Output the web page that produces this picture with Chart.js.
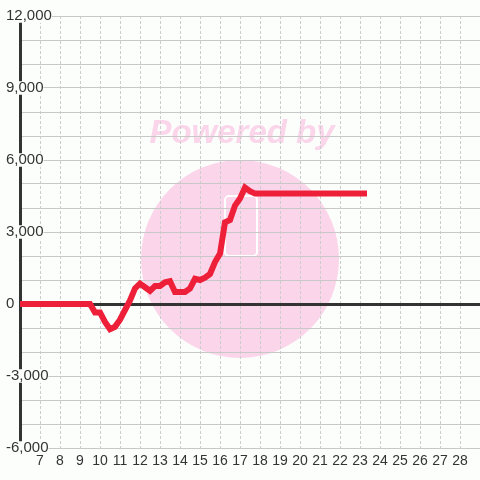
<!DOCTYPE html>
<html>
<head>
<meta charset="utf-8">
<script src="https://cdn.jsdelivr.net/npm/chart.js@4/dist/chart.umd.min.js"></script>
<style>
  html, body { margin: 0; padding: 0; background: #fcfefc; }
  #wrap { width: 480px; height: 480px; }
</style>
</head>
<body>
<div id="wrap"><canvas id="c"></canvas></div>
<script>
// profit curve
const xValues = [6, 9.5, 9.75, 10, 10.25, 10.5, 10.75, 11, 11.25, 11.5, 11.75, 12, 12.25, 12.5, 12.75, 13, 13.25, 13.5, 13.75, 14, 14.25, 14.5, 14.75, 15, 15.25, 15.5, 15.75, 16, 16.25, 16.5, 16.75, 17, 17.25, 17.5, 17.75, 23.35];
const yValues = [0, 0, -350, -350, -750, -1050, -950, -650, -250, 150, 650, 850, 700, 550, 750, 750, 900, 950, 500, 500, 500, 650, 1050, 1000, 1100, 1250, 1750, 2100, 3400, 3500, 4100, 4400, 4850, 4700, 4600, 4600];
const xRange = [6, 29];
const yRange = [-6000, 12000];
const yLabelStep = 3000;

const BG = "#fcfefc";

// background + "powered by" watermark, under the grid
const backdrop = {
  id: "backdrop",
  beforeDraw(chart) {
    const ctx = chart.ctx;
    ctx.save();
    ctx.fillStyle = BG;
    ctx.fillRect(0, 0, chart.width, chart.height);
    ctx.fillStyle = "#fbd5ea";
    ctx.beginPath();
    ctx.arc(240, 259, 99, 0, Math.PI * 2);
    ctx.fill();
    ctx.font = "italic bold 33px 'Liberation Sans', Arial, sans-serif";
    ctx.textAlign = "center";
    ctx.textBaseline = "middle";
    ctx.fillText("Powered by", 242, 134);
    ctx.strokeStyle = "#ffffff";
    ctx.lineWidth = 2;
    ctx.beginPath();
    ctx.roundRect(225, 196, 32, 60, 4);
    ctx.stroke();
    ctx.restore();
  },
};

new Chart(document.getElementById("c"), {
  type: "line",
  data: {
    datasets: [{
      data: xValues.map((x, i) => ({ x, y: yValues[i] })),
      borderColor: "#ee2039",
      borderWidth: 6,
      pointRadius: 0,
      fill: false,
      tension: 0,
    }],
  },
  options: {
    responsive: true,
    maintainAspectRatio: false,
    animation: false,
    layout: { padding: { left: 6, top: 16, right: 0, bottom: 0 } },
    plugins: { legend: { display: false }, tooltip: { enabled: false } },
    scales: {
      x: {
        type: "linear",
        min: xRange[0],
        max: xRange[1],
        afterFit: (s) => { s.height = 32; s.paddingLeft = 0; s.paddingRight = 0; },
        ticks: {
          stepSize: 1,
          padding: 5,
          autoSkip: false,
          maxRotation: 0,
          minRotation: 0,
          color: "#333",
          font: { family: "'Liberation Sans', Arial, sans-serif", size: 14 },
          callback: (v) => (v === xRange[0] || v === xRange[1] ? "" : String(v)),
        },
        grid: { color: "#cccccc", lineWidth: 1, drawTicks: false },
        border: { display: false, dash: [3, 2] },
      },
      y: {
        min: yRange[0],
        max: yRange[1],
        afterFit: (s) => { s.width = 14; s.paddingTop = 0; s.paddingBottom = 0; },
        ticks: {
          stepSize: 1000,
          mirror: true,
          crossAlign: "near",
          padding: -14,
          autoSkip: false,
          color: "#333",
          font: { family: "'Liberation Sans', Arial, sans-serif", size: 15, lineHeight: 0.9 },
          showLabelBackdrop: true,
          backdropColor: BG,
          backdropPadding: 0,
          callback: (v) => (v % yLabelStep === 0 ? v.toLocaleString("en-US") : ""),
        },
        grid: {
          drawTicks: false,
          color: (c) => (c.tick && c.tick.value === 0 ? "#333333" : "#c8c8c8"),
          lineWidth: (c) => (c.tick && c.tick.value === 0 ? 3 : 1),
        },
        border: { display: true, color: "#333333", width: 3 },
      },
    },
  },
  plugins: [backdrop],
});
</script>
</body>
</html>
